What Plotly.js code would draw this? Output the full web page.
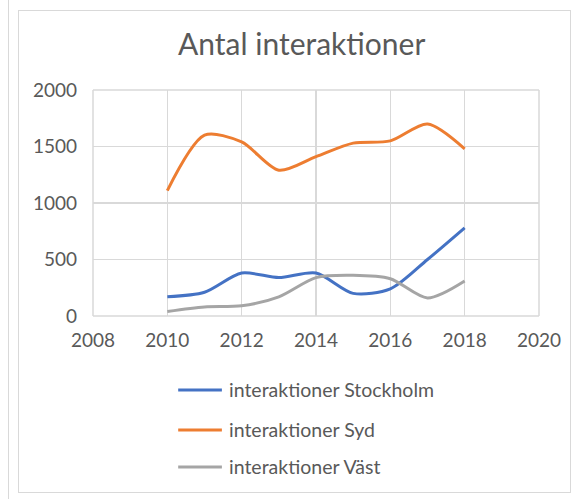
<!DOCTYPE html>
<html>
<head>
<meta charset="utf-8">
<script src="https://cdn.plot.ly/plotly-3.0.1.min.js"></script>
<style>
  body { margin: 0; background: #fff; }
  #frame { position: absolute; left: 18px; top: 10px; width: 551px; height: 481px; border: 1px solid #d9d9d9; }
  #edge { position: absolute; left: 8px; top: 0; width: 0; height: 499px; border-left: 1px solid #d9d9d9; }
  #chart { position: absolute; left: 0; top: 0; width: 578px; height: 499px; }
</style>
</head>
<body>
<div id="edge"></div>
<div id="frame"></div>
<div id="chart"></div>
<script>
var years = [2010, 2011, 2012, 2013, 2014, 2015, 2016, 2017, 2018];
var stockholm = [170, 210, 380, 340, 380, 200, 240, 500, 780];
var syd = [1110, 1600, 1540, 1290, 1410, 1530, 1550, 1700, 1480];
var vast = [40, 80, 90, 170, 340, 360, 330, 160, 310];

var names = ["interaktioner Stockholm", "interaktioner Syd", "interaktioner Väst"];
var colors = ["#4472c4", "#ed7d31", "#a5a5a5"];
var series = [stockholm, syd, vast];

var data = series.map(function (s, i) {
    return {
        x: years,
        y: s,
        name: names[i],
        type: "scatter",
        mode: "lines",
        line: {color: colors[i], width: 3, shape: "spline", smoothing: 0.8}
    };
});

// Excel-like legend: longer swatch lines, drawn in paper coords below the plot
var legendRows = [-0.327, -0.504, -0.668];
var shapes = [];
var annotations = [];
names.forEach(function (n, i) {
    shapes.push({type: "line", xref: "paper", yref: "paper", x0: 0.191, x1: 0.289,
                 y0: legendRows[i], y1: legendRows[i], line: {color: colors[i], width: 3}});
    annotations.push({text: n, xref: "paper", yref: "paper", x: 0.30, y: legendRows[i],
                      xanchor: "left", yanchor: "middle", showarrow: false,
                      font: {size: 19.5, color: "#595959"}});
});

var border = {color: "#d9d9d9", width: 1.5};
shapes.push({type: "line", xref: "paper", yref: "paper", x0: 1, x1: 1, y0: 0, y1: 1, line: border});
shapes.push({type: "line", xref: "paper", yref: "paper", x0: 0, x1: 0, y0: 0, y1: 1, line: border});
shapes.push({type: "line", xref: "paper", yref: "paper", x0: 0, x1: 1, y0: 1, y1: 1, line: border});
shapes.push({type: "line", xref: "paper", yref: "paper", x0: 0, x1: 1, y0: 0, y1: 0, line: border});

var layout = {
    width: 578,
    height: 499,
    margin: {l: 93, r: 39, t: 90, b: 183},
    paper_bgcolor: "rgba(0,0,0,0)",
    plot_bgcolor: "rgba(0,0,0,0)",
    font: {family: "Lato, sans-serif", size: 19, color: "#595959"},
    title: {text: "Antal interaktioner", font: {size: 30, color: "#595959"},
            x: 0.522, xanchor: "center", y: 0.91, yanchor: "middle"},
    xaxis: {range: [2008, 2020], dtick: 2, tick0: 2008, showgrid: true, gridcolor: "#d9d9d9", gridwidth: 1.5,
            zeroline: false, showline: false, ticks: "", ticklabelstandoff: 11},
    yaxis: {range: [0, 2000], dtick: 500, showgrid: true, gridcolor: "#d9d9d9", gridwidth: 1.5,
            zeroline: false, showline: false, ticks: "", ticklabelstandoff: 15},
    shapes: shapes,
    annotations: annotations,
    showlegend: false
};

Plotly.newPlot("chart", data, layout, {displayModeBar: false, staticPlot: true});
</script>
</body>
</html>
